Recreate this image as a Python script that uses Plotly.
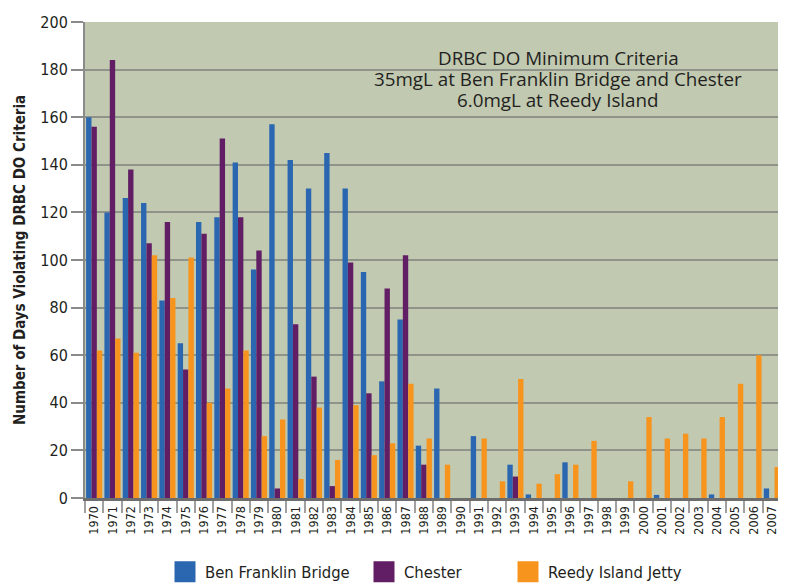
import plotly.graph_objects as go

years = [str(y) for y in range(1970, 2008)]

ben_franklin = [160, 120, 126, 124, 83, 65, 116, 118, 141, 96,
                157, 142, 130, 145, 130, 95, 49, 75, 22, 46,
                0, 26, 0, 14, 1.5, 0, 15, 0, 0, 0,
                0, 1.3, 0, 0, 1.5, 0, 0, 4]
chester = [156, 184, 138, 107, 116, 54, 111, 151, 118, 104,
           4, 73, 51, 5, 99, 44, 88, 102, 14, 0,
           0, 0, 0, 9, 0, 0, 0, 0, 0, 0,
           0, 0, 0, 0, 0, 0, 0, 0]
reedy_island = [62, 67, 61, 102, 84, 101, 40, 46, 62, 26,
                33, 8, 38, 16, 39, 18, 23, 48, 25, 14,
                0, 25, 7, 50, 6, 10, 14, 24, 0, 7,
                34, 25, 27, 25, 34, 48, 60, 13]

series_names = ["Ben Franklin Bridge", "Chester", "Reedy Island Jetty"]
series_values = [ben_franklin, chester, reedy_island]
colors = ["#2b66b1", "#621e64", "#f7941e"]

y_title = "Number of Days Violating DRBC DO Criteria"
annotation_lines = ["DRBC DO Minimum Criteria",
                    "35mgL at Ben Franklin Bridge and Chester",
                    "6.0mgL at Reedy Island"]

NARROW = "Liberation Sans Narrow, Arial Narrow, DejaVu Sans Condensed, sans-serif"

# the page body has an 8px margin, so the figure is shifted by 8px
PAGE_OFF = 8
PL, PT, PW, PH = 85, 22, 696, 476  # plot area in window pixels

fig = go.Figure()
for name, vals, col in zip(series_names, series_values, colors):
    fig.add_trace(go.Bar(x=years, y=vals, name=name, showlegend=False,
                         marker=dict(color=col, line=dict(width=0))))

legend_ids = ["legend", "legend2", "legend3"]
for name, col, lid in zip(series_names, colors, legend_ids):
    fig.add_trace(go.Scatter(x=[None], y=[None], mode="markers", name=name,
                             legend=lid, showlegend=True,
                             marker=dict(symbol="square", size=16, color=col,
                                         line=dict(color=col, width=5))))

legend_common = dict(orientation="h", yanchor="middle", xanchor="left",
                     font=dict(family=NARROW, size=16.5, color="#231f20"),
                     bgcolor="rgba(0,0,0,0)", itemsizing="trace")
leg_x = [(165 - PL) / PW, (364 - PL) / PW, (508 - PL) / PW]
leg_y = -(572 - (PT + PH)) / PH

fig.update_layout(
    width=786 - PAGE_OFF, height=584 - PAGE_OFF,
    margin=dict(l=PL - PAGE_OFF, r=786 - (PL + PW), t=PT - PAGE_OFF,
                b=584 - (PT + PH), autoexpand=False),
    paper_bgcolor="white",
    plot_bgcolor="#c1c9b1",
    barmode="group", bargap=0.12, bargroupgap=0,
    legend=dict(x=leg_x[0], y=leg_y, **legend_common),
    legend2=dict(x=leg_x[1], y=leg_y, **legend_common),
    legend3=dict(x=leg_x[2], y=leg_y, **legend_common),
    xaxis=dict(type="category", tickangle=-90, tickson="boundaries",
               ticks="outside", ticklen=12, tickcolor="#a0a0a0", tickwidth=1.5,
               tickfont=dict(family=NARROW, size=12.5, color="#231f20"),
               showgrid=False, showline=True, linecolor="#6d6d6d", linewidth=3,
               zeroline=False, automargin=False),
    yaxis=dict(range=[0, 200], dtick=20, ticks="outside", ticklen=12,
               tickcolor="#8a8a8a", tickwidth=1.5,
               tickfont=dict(family=NARROW, size=16, color="#231f20"),
               showgrid=True, gridcolor="#8f938a", gridwidth=2,
               showline=True, linecolor="#8a8a8a", linewidth=2,
               zeroline=False, automargin=False),
)

fig.add_annotation(text="<b>" + y_title + "</b>", xref="paper", yref="paper",
                   x=-(PL - 20) / PW, y=0.5, textangle=-90,
                   xanchor="center", yanchor="middle", showarrow=False,
                   font=dict(family=NARROW, size=15, color="#231f20"))

for i, line in enumerate(annotation_lines):
    fig.add_annotation(text=line, xref="paper", yref="paper",
                       x=(558 - PL) / PW, y=1 - (58 + 21 * i - PT) / PH,
                       xanchor="center", yanchor="middle", showarrow=False,
                       font=dict(family="Open Sans, Noto Sans, sans-serif",
                                 size=18.8, color="#231f20"))

fig.write_html("out.html")
